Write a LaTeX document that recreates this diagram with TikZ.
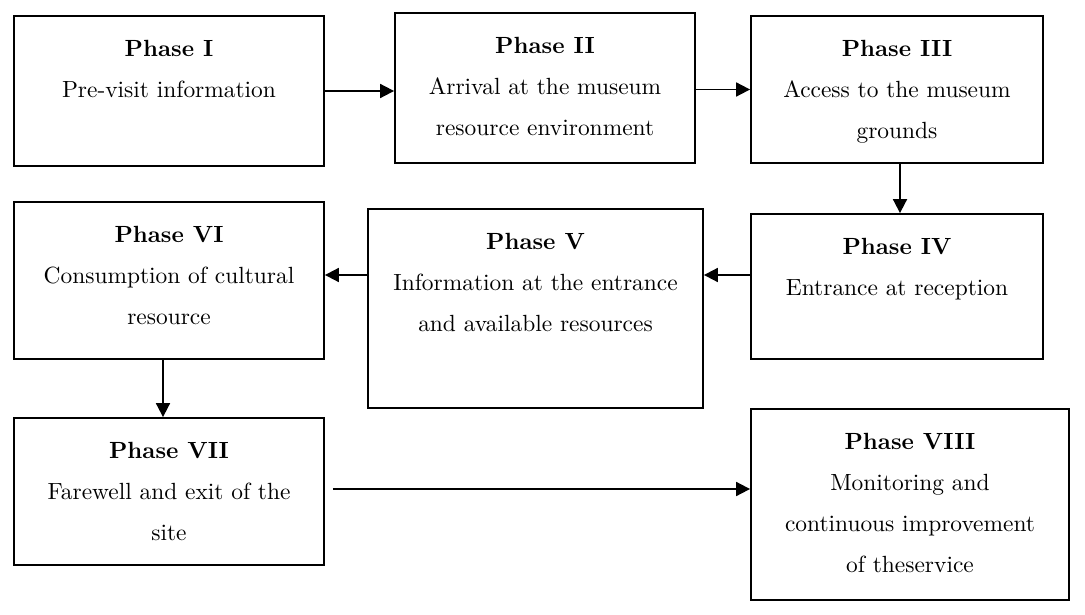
\documentclass[tikz,border=0pt]{standalone}
\usepackage{fontspec}
\setmainfont{lmroman10-regular.otf}[BoldFont=lmroman10-bold.otf]
\usetikzlibrary{arrows.meta}

\tikzset{
  phase/.style={draw, rectangle, inner sep=0pt},
  phasetext/.style={anchor=north, align=center, inner sep=0pt, yshift=-24.7bp,
    font=\fontsize{23.5}{41}\selectfont},
}

\begin{document}
\begin{tikzpicture}[>={Triangle[length=14bp,width=14bp]},line join=miter,x=1bp,y=-1bp]
  \pgfsetlinewidth{1.8bp}
  \useasboundingbox (0,0) rectangle (1085,615);
%%
  % Node: Phase I
  \node[phase,minimum width=310bp,minimum height=150bp] (p1) at (169,91) {};
  \node[phasetext] (p1t) at (p1.north) {\textbf{Phase I}\\Pre-visit information};
  % Node: Phase II
  \node[phase,minimum width=300bp,minimum height=150bp] (p2) at (545,88) {};
  \node[phasetext] (p2t) at (p2.north) {\textbf{Phase II}\\Arrival at the museum\\resource environment};
  % Node: Phase III
  \node[phase,minimum width=292bp,minimum height=147bp] (p3) at (897,89.5) {};
  \node[phasetext] (p3t) at (p3.north) {\textbf{Phase III}\\Access to the museum\\grounds};
  % Node: Phase IV
  \node[phase,minimum width=292bp,minimum height=145bp] (p4) at (897,286.5) {};
  \node[phasetext] (p4t) at (p4.north) {\textbf{Phase IV}\\Entrance at reception};
  % Node: Phase V
  \node[phase,minimum width=335bp,minimum height=199bp] (p5) at (535.5,308.5) {};
  \node[phasetext] (p5t) at (p5.north) {\textbf{Phase V}\\Information at the entrance\\and available resources};
  % Node: Phase VI
  \node[phase,minimum width=310bp,minimum height=157bp] (p6) at (169,280.5) {};
  \node[phasetext] (p6t) at (p6.north) {\textbf{Phase VI}\\Consumption of cultural\\resource};
  % Node: Phase VII
  \node[phase,minimum width=310bp,minimum height=147bp] (p7) at (169,491.5) {};
  \node[phasetext] (p7t) at (p7.north) {\textbf{Phase VII}\\Farewell and exit of the\\site};
  % Node: Phase VIII
  \node[phase,minimum width=318bp,minimum height=191bp] (p8) at (910,504.5) {};
  \node[phasetext] (p8t) at (p8.north) {\textbf{Phase VIII}\\Monitoring and\\continuous improvement\\of theservice};
%%
  \coordinate (r2) at ([yshift=11.5bp]p4.west);
  % Edge: Phase I -> Phase II
  \draw [->] (p1.east) -- (p1.east -| p2.west);
  % Edge: Phase II -> Phase III
  \draw [->] (p3.west -| p2.east) -- (p3.west);
  % Edge: Phase III -> Phase IV
  \draw [->] ([xshift=3bp]p3.south) -- ([xshift=3bp]p4.north);
  % Edge: Phase IV -> Phase V
  \draw [->] (r2) -- (r2 -| p5.east);
  % Edge: Phase V -> Phase VI
  \draw [->] (r2 -| p5.west) -- (r2 -| p6.east);
  % Edge: Phase VI -> Phase VII
  \draw [->] ([xshift=-6bp]p6.south) -- ([xshift=-6bp]p7.north);
  % Edge: Phase VII -> Phase VIII
  \draw [->] ([xshift=8bp,yshift=2.5bp]p7.east) -- ([yshift=2.5bp]p7.east -| p8.west);
%
\end{tikzpicture}
\end{document}
